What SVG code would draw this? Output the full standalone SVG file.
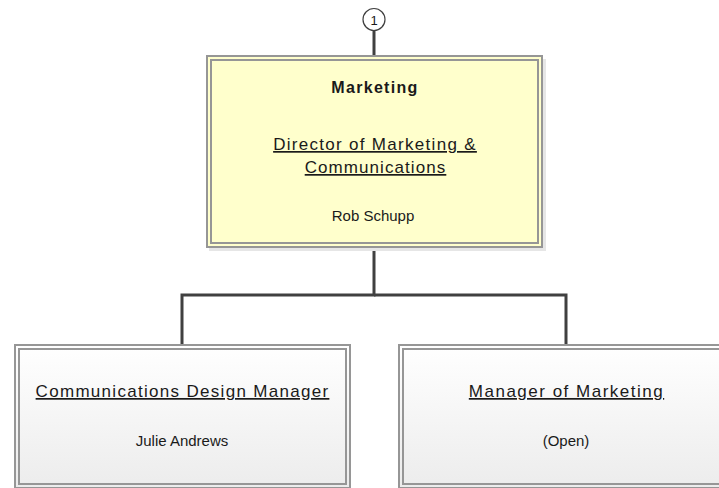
<svg xmlns="http://www.w3.org/2000/svg" width="719" height="488" viewBox="0 0 719 488">
<defs>
<linearGradient id="g" x1="0" y1="0" x2="0" y2="1">
<stop offset="0" stop-color="#ffffff"/>
<stop offset="1" stop-color="#ececec"/>
</linearGradient>
</defs>
<style>
.t{font-family:"Liberation Sans",Arial,sans-serif;font-size:15px;fill:#1a1a1a;text-anchor:middle}
.b{font-weight:bold;font-size:16px;letter-spacing:1.3px}
.u{text-decoration:underline;font-size:17px;letter-spacing:1.3px}
.c{fill:none;stroke:#404040;stroke-width:3}
</style>
<rect width="719" height="488" fill="#ffffff"/>
<g id="connectors">
<line class="c" x1="374" y1="31" x2="374" y2="56"/>
<polyline class="c" points="374,248 374,295 182,295 182,344"/>
<polyline class="c" points="374,295 566,295 566,344"/>
</g>
<g id="ref1">
<circle cx="374" cy="19.5" r="11" fill="#ffffff" stroke="#404040" stroke-width="1.2"/>
<text class="t" x="374" y="25" style="font-size:13px">1</text>
</g>
<g id="marketing">
<rect x="543" y="59" width="3" height="192" fill="#e6e6e6"/>
<rect x="209" y="248" width="337" height="3" fill="#e6e6e6"/>
<rect x="207" y="56" width="335" height="191" fill="#ffffcc" stroke="#969696" stroke-width="2"/>
<rect x="211" y="60" width="327" height="183" fill="none" stroke="#969696" stroke-width="2"/>
<text class="t b" x="375" y="93">Marketing</text>
<text class="t u" x="375" y="150" letter-spacing="1.35">Director of Marketing &amp;</text>
<text class="t u" x="375.5" y="173" style="letter-spacing:1.07px">Communications</text>
<text class="t" x="373" y="221">Rob Schupp</text>
</g>
<g id="design">
<rect x="15" y="345" width="335" height="143" fill="url(#g)" stroke="#969696" stroke-width="2"/>
<rect x="19" y="349" width="327" height="135" fill="none" stroke="#969696" stroke-width="2"/>
<text class="t u" x="182.5" y="397">Communications Design Manager</text>
<text class="t" x="182" y="446">Julie Andrews</text>
</g>
<g id="manager">
<rect x="399" y="345" width="335" height="143" fill="url(#g)" stroke="#969696" stroke-width="2"/>
<rect x="403" y="349" width="327" height="135" fill="none" stroke="#969696" stroke-width="2"/>
<text class="t u" x="566.5" y="397" style="letter-spacing:1.5px">Manager of Marketing</text>
<text class="t" x="566" y="446">(Open)</text>
</g>
</svg>
